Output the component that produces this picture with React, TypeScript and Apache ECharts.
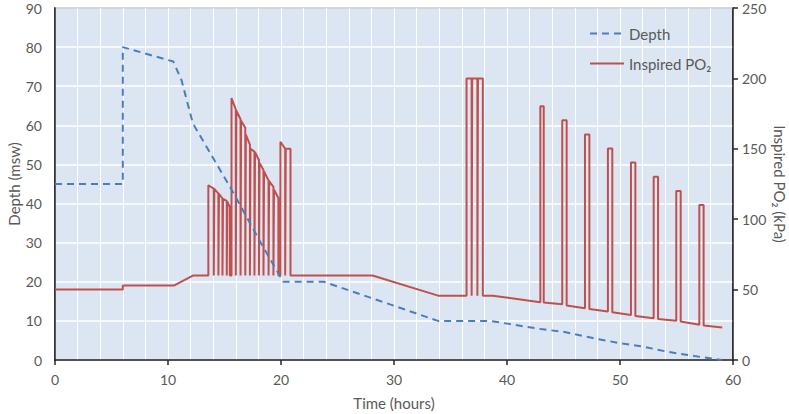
import React, { useEffect, useRef } from "react";
import * as echarts from "echarts";

// Depth profile (hours, msw)
const depthPoints: [number, number][] = [
  [0, 45], [6, 45], [6, 80], [10.47, 76.3], [11.2, 71.5], [12.2, 60.5],
  [15.5, 44.2], [18.4, 29], [20.2, 20], [23.8, 20], [33.9, 10], [38.5, 10],
  [40, 9.3], [43, 7.9], [45, 7.2], [47.6, 5.6], [50, 4.3], [52.1, 3.4],
  [54.2, 2.1], [56.6, 1], [59, 0],
];

// Inspired PO2 (hours, kPa) - baseline phases
const po2Lead: [number, number][] = [
  [0, 50], [6, 50], [6, 53], [10.56, 53], [12.2, 60], [13.57, 60],
];
// O2 periods during treatment: [tStart, tEnd, topStart, topEnd], baseline 60 kPa
const pulsesA: [number, number, number, number][] = [
  [13.57, 14.05, 124.1, 121.7], [14.1, 14.46, 121.5, 118.2], [14.51, 14.82, 118, 114.7],
  [14.87, 15.2, 114.5, 113], [15.25, 15.47, 112.5, 108.8],
  [15.62, 16.0, 186, 178], [16.05, 16.42, 177, 171], [16.47, 16.84, 170, 165],
  [16.89, 17.25, 160, 153], [17.3, 17.65, 150, 148], [17.7, 18.05, 147.5, 142],
  [18.1, 18.45, 140, 135], [18.5, 18.9, 134, 127.5], [18.95, 19.33, 127, 123],
  [19.38, 19.77, 121, 115],
  [19.95, 20.37, 155, 150], [20.42, 20.84, 150, 150],
];
const baseA = 60;
const po2Mid: [number, number][] = [
  [20.84, 60], [28.1, 60], [33.9, 45.7], [36.42, 45.7],
];
const pulsesB: [number, number, number, number][] = [
  [36.42, 36.87, 200, 200], [36.92, 37.38, 200, 200], [37.43, 37.86, 200, 200],
];
const baseB = 45.7;
const po2AfterB: [number, number][] = [[38.75, 45.7]];
// [tStart, tEnd, top, baseBefore, baseAfter]
const tailSpikes: [number, number, number, number, number][] = [
  [42.95, 43.25, 180.3, 41.0, 40.8],
  [44.89, 45.28, 170.3, 39.6, 38.7],
  [46.9, 47.29, 160.2, 36.8, 36.3],
  [48.93, 49.32, 150.2, 34.4, 33.9],
  [50.97, 51.36, 140.3, 32.0, 31.3],
  [52.98, 53.37, 130.1, 29.7, 29.2],
  [54.98, 55.37, 120, 27.8, 27.3],
  [57.02, 57.4, 110, 25.0, 24.5],
];
const po2End: [number, number][] = [[59.05, 23]];

function buildPo2(): [number, number][] {
  const out: [number, number][] = [...po2Lead];
  pulsesA.forEach(([a, b, ta, tb]) => {
    out.push([a, baseA], [a, ta], [b, tb], [b, baseA]);
  });
  out.push(...po2Mid);
  pulsesB.forEach(([a, b, ta, tb]) => {
    out.push([a, baseB], [a, ta], [b, tb], [b, baseB]);
  });
  out.push(...po2AfterB);
  tailSpikes.forEach(([a, b, top, b0, b1]) => {
    out.push([a, b0], [a, top], [b, top], [b, b1]);
  });
  out.push(...po2End);
  return out;
}

const FONT = "Lato, 'Open Sans', sans-serif";
const TXT = "#595959";
const AXIS = "#262626";

export default function App() {
  const ref = useRef<HTMLDivElement>(null);
  useEffect(() => {
    if (!ref.current) return;
    const chart = echarts.init(ref.current, undefined, { renderer: "svg" });
    chart.setOption({
      animation: false,
      textStyle: { fontFamily: FONT },
      grid: {
        left: 55,
        right: 56,
        top: 8,
        bottom: 54,
        outerBoundsMode: "none",
        containLabel: false,
        show: true,
        backgroundColor: "#dce6f2",
        borderColor: AXIS,
        borderWidth: 1.5,
      },
      legend: {
        orient: "vertical",
        left: 584,
        top: 21,
        itemWidth: 34,
        itemHeight: 14,
        itemGap: 15,
        itemStyle: { opacity: 0 },
        textStyle: { color: TXT, fontSize: 15, fontFamily: FONT },
        data: ["Depth", "Inspired PO₂"],
      },
      xAxis: {
        type: "value",
        min: 0,
        max: 60,
        interval: 10,
        name: "Time (hours)",
        nameLocation: "middle",
        nameGap: 35,
        nameMoveOverlap: false,
        nameTextStyle: { color: TXT, fontSize: 15, fontFamily: FONT },
        axisLine: { show: true, lineStyle: { color: AXIS, width: 1.5 } },
        axisTick: { show: true, length: 5, lineStyle: { color: AXIS, width: 1.5 } },
        axisLabel: { color: TXT, fontSize: 14, margin: 12, fontFamily: FONT },
        splitLine: { show: true, lineStyle: { color: "#ffffff", width: 1 } },
        minorTick: { show: false, splitNumber: 5 },
        minorSplitLine: { show: true, lineStyle: { color: "#ffffff", width: 1 } },
      },
      yAxis: [
        {
          type: "value",
          min: 0,
          max: 90,
          interval: 10,
          name: "Depth (msw)",
          nameLocation: "middle",
          nameGap: 34,
          nameMoveOverlap: false,
          nameTextStyle: { color: TXT, fontSize: 15, fontFamily: FONT },
          axisLine: { show: true, lineStyle: { color: AXIS, width: 1.5 } },
          axisTick: { show: false },
          axisLabel: { color: TXT, fontSize: 14, margin: 13, fontFamily: FONT },
          splitLine: { show: true, lineStyle: { color: "#ffffff", width: 1.5 } },
        },
        {
          type: "value",
          min: 0,
          max: 250,
          interval: 50,
          position: "right",
          name: "Inspired PO₂ (kPa)",
          nameLocation: "middle",
          nameGap: 39,
          nameRotate: -90,
          nameMoveOverlap: false,
          nameTextStyle: { color: TXT, fontSize: 15, fontFamily: FONT },
          axisLine: { show: true, lineStyle: { color: AXIS, width: 1.5 } },
          axisTick: { show: true, length: 5, lineStyle: { color: AXIS, width: 1.5 } },
          axisLabel: { color: TXT, fontSize: 14, margin: 9, fontFamily: FONT },
          splitLine: { show: false },
        },
      ],
      series: [
        {
          name: "Depth",
          type: "line",
          yAxisIndex: 0,
          data: depthPoints,
          symbol: "none",
          lineStyle: { color: "#4a7ebb", width: 2, type: [7, 5] },
          itemStyle: { color: "#4a7ebb" },
          z: 3,
        },
        {
          name: "Inspired PO₂",
          type: "line",
          yAxisIndex: 1,
          data: buildPo2(),
          symbol: "none",
          lineStyle: { color: "#c0504d", width: 2 },
          itemStyle: { color: "#c0504d" },
          z: 2,
        },
      ],
    });
    return () => chart.dispose();
  }, []);
  return (
    <div
      ref={ref}
      style={{ position: "absolute", left: 0, top: 0, width: 789, height: 414, background: "#ffffff" }}
    />
  );
}
